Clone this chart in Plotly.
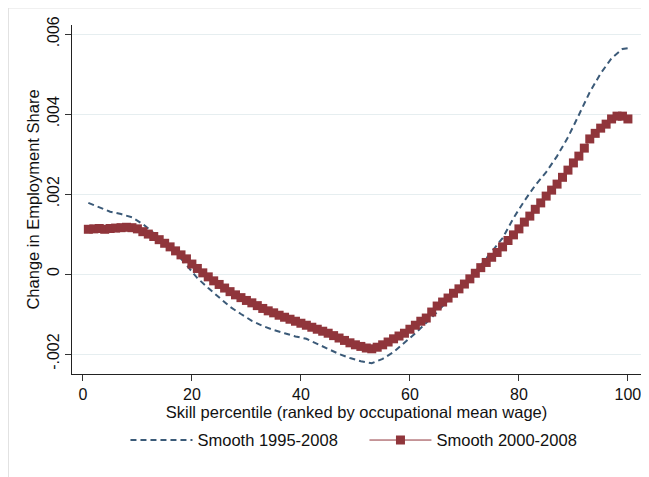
import plotly.graph_objects as go

# ---- data (values in employment-share units) ----
pct_2000 = list(range(1, 101))
smooth_2000_2008_e3 = [
    1.12, 1.13, 1.14, 1.12, 1.14, 1.15, 1.16, 1.17, 1.16, 1.13,
    1.06, 1.00, 0.94, 0.86, 0.77, 0.68, 0.58, 0.48, 0.38, 0.25,
    0.14, 0.03, -0.07, -0.17, -0.26, -0.35, -0.44, -0.52, -0.59, -0.66,
    -0.72, -0.79, -0.86, -0.92, -0.97, -1.03, -1.08, -1.13, -1.18, -1.23,
    -1.28, -1.33, -1.38, -1.43, -1.48, -1.54, -1.60, -1.66, -1.72, -1.77,
    -1.81, -1.85, -1.87, -1.83, -1.77, -1.70, -1.62, -1.55, -1.48, -1.38,
    -1.28, -1.18, -1.10, -0.95, -0.80, -0.70, -0.60, -0.48, -0.37, -0.25,
    -0.12, 0.02, 0.16, 0.29, 0.42, 0.54, 0.68, 0.84, 0.98, 1.13,
    1.30, 1.45, 1.62, 1.78, 1.95, 2.10, 2.25, 2.42, 2.60, 2.78,
    2.95, 3.15, 3.38, 3.52, 3.65, 3.75, 3.88, 3.95, 3.95, 3.88,
]

pct_1995 = [1, 3, 5, 7, 9, 11, 13, 15, 17, 19, 21, 23, 25, 27, 29, 31, 33, 35,
            37, 39, 41, 43, 45, 47, 49, 51, 53, 55, 57, 59, 61, 63, 65, 67, 69,
            71, 73, 75, 77, 79, 81, 83, 85, 87, 89, 91, 93, 95, 97, 99, 100]
smooth_1995_2008_e3 = [
    1.78, 1.68, 1.56, 1.50, 1.42, 1.25, 1.03, 0.80, 0.55, 0.22,
    -0.10, -0.35, -0.58, -0.82, -1.00, -1.17, -1.30, -1.40, -1.48, -1.56,
    -1.62, -1.75, -1.87, -2.00, -2.10, -2.18, -2.23, -2.12, -1.95, -1.72,
    -1.48, -1.22, -0.95, -0.65, -0.38, -0.10, 0.22, 0.55, 0.90, 1.40,
    1.83, 2.22, 2.55, 2.95, 3.42, 3.98, 4.55, 5.02, 5.40, 5.63, 5.65,
]

smooth_2000_2008 = [v / 1000 for v in smooth_2000_2008_e3]
smooth_1995_2008 = [v / 1000 for v in smooth_1995_2008_e3]

x_ticks = [0, 20, 40, 60, 80, 100]
y_ticks = [-0.002, 0, 0.002, 0.004, 0.006]
y_tick_labels = ["-.002", "0", ".002", ".004", ".006"]

FONT = "Liberation Sans, Arial, sans-serif"
NAVY = "#3b5a78"
MAROON = "#90353b"
GRID = "#e6eef0"

fig = go.Figure()
fig.add_trace(go.Scatter(
    x=pct_1995, y=smooth_1995_2008, mode="lines", name="Smooth 1995-2008",
    line=dict(color=NAVY, width=2, dash="6px,4px"),
))
fig.add_trace(go.Scatter(
    x=pct_2000, y=smooth_2000_2008, mode="lines+markers", name="Smooth 2000-2008",
    line=dict(color=MAROON, width=1),
    marker=dict(symbol="square", size=9, color=MAROON),
))

# page body has an 8px margin, so the figure is 8px smaller than the window
fig.update_layout(
    width=641, height=469,
    margin=dict(l=64, r=8, t=17, b=103),
    paper_bgcolor="white", plot_bgcolor="white",
    font=dict(family=FONT, size=16, color="#111111"),
    showlegend=True,
    legend=dict(
        orientation="h", x=0.514, xanchor="center", y=-0.19, yanchor="middle",
        font=dict(size=16.5), itemwidth=62, entrywidth=162,
        bgcolor="rgba(0,0,0,0)",
    ),
    xaxis=dict(
        range=[-2, 102.4], tickvals=x_ticks, ticks="outside", ticklen=6,
        tickcolor="#333333", showline=True, linecolor="#222222", linewidth=1.2,
        showgrid=False, zeroline=False, mirror=False, automargin=False,
        title=dict(text="Skill percentile (ranked by occupational mean wage)",
                   standoff=0, font=dict(size=16.5)),
        tickfont=dict(size=16),
    ),
    yaxis=dict(
        range=[-0.0025, 0.00623], tickvals=y_ticks, ticktext=y_tick_labels,
        tickangle=-90, ticks="outside", ticklen=6, tickcolor="#333333",
        showline=True, linecolor="#222222", linewidth=1.2,
        showgrid=True, gridcolor=GRID, gridwidth=1, zeroline=False,
        automargin=False,
        title=dict(text="Change in Employment Share", standoff=0, font=dict(size=16.5)),
        tickfont=dict(size=16),
    ),
    shapes=[
        dict(type="line", xref="paper", yref="paper",
             x0=(0 - 64) / 569, x1=(641 - 64) / 569,
             y0=(366 - 0) / 349, y1=(366 - 0) / 349,
             line=dict(color="#e2e2e2", width=1)),
        dict(type="line", xref="paper", yref="paper",
             x0=(0.5 - 64) / 569, x1=(0.5 - 64) / 569,
             y0=(366 - 0) / 349, y1=(366 - 469) / 349,
             line=dict(color="#e2e2e2", width=1)),
    ],
)

fig.write_html("out.html")
